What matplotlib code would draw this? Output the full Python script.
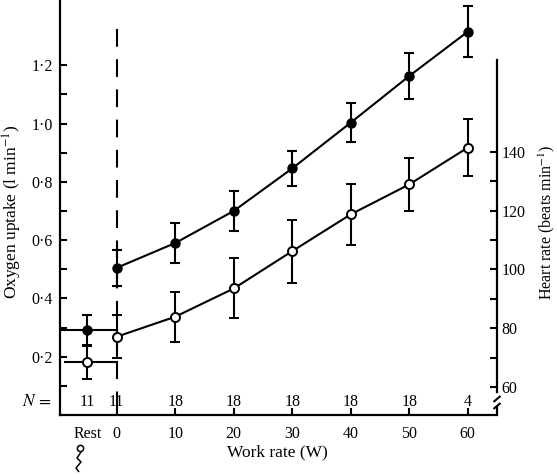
import matplotlib
matplotlib.use("Agg")
import matplotlib.pyplot as plt
from matplotlib.lines import Line2D
from matplotlib.ticker import FixedLocator

plt.rcParams['font.family'] = ['Liberation Serif', 'DejaVu Serif']
plt.rcParams['mathtext.fontset'] = 'stix'

# ---- data ----
work_labels = ['Rest', '0', '10', '20', '30', '40', '50', '60']
work_x = [-5, 0, 10, 20, 30, 40, 50, 60]
n_subjects = [11, 11, 18, 18, 18, 18, 18, 4]
o2_mean = [0.29, 0.505, 0.59, 0.70, 0.846, 1.003, 1.163, 1.315]
o2_err = [0.053, 0.062, 0.068, 0.069, 0.060, 0.066, 0.078, 0.087]
hr_mean = [68.5, 77.1, 83.9, 93.5, 106.2, 118.7, 128.9, 141.4]
hr_err = [5.8, 7.3, 8.5, 10.2, 10.7, 10.5, 9.1, 9.8]
o2_ticks = [0.2, 0.4, 0.6, 0.8, 1.0, 1.2]
o2_minor = [0.1, 0.3, 0.5, 0.7, 0.9, 1.1]
hr_ticks = [60, 80, 100, 120, 140]
hr_minor = [70, 90, 110, 130]

W, H = 557, 475
fig = plt.figure(figsize=(W / 100, H / 100), dpi=100)
ax = fig.add_axes([60 / W, 1 - 415 / H, (497 - 60) / W, 415 / H])
ax.set_xlim(-9.7, 65)
ax.set_ylim(0, 1.4237)

lw = 1.5
fs = 11.5

# dashed line at work rate 0
ax.plot([0, 0], [1.324, 0], color='black', lw=1.5, dashes=(8.5, 6), zorder=1)

# oxygen uptake (filled)
ax.plot([ax.get_xlim()[0], 0], [o2_mean[0], o2_mean[0]], color='black', lw=lw, zorder=2)
ax.plot(work_x[1:], o2_mean[1:], color='black', lw=lw, zorder=2)
ax.errorbar(work_x, o2_mean, yerr=o2_err, fmt='o', color='black', ms=6.5,
            elinewidth=1.5, capsize=3.6, capthick=1.5, zorder=3, clip_on=False)

for side in ['top', 'right']:
    ax.spines[side].set_visible(False)
ax.spines['left'].set_linewidth(1.6)
ax.spines['bottom'].set_linewidth(1.6)

ax.yaxis.set_major_locator(FixedLocator(o2_ticks))
ax.yaxis.set_minor_locator(FixedLocator(o2_minor))
ax.set_yticklabels([f"{v:.1f}".replace('.', '\u00b7') for v in o2_ticks])
ax.tick_params(axis='y', which='both', direction='in', length=5, width=1.5,
               labelsize=fs, pad=5)
ax.set_xticks(work_x)
ax.set_xticklabels(work_labels)
ax.tick_params(axis='x', direction='in', length=5, width=1.5, labelsize=fs, pad=8)
ax.xaxis.get_major_ticks()[0].tick1line.set_visible(False)

# N row
for x, n in zip(work_x, n_subjects):
    ax.text(x, 0.045, str(n), ha='center', va='center', fontsize=fs)
fig.text(37 / W, 1 - 402 / H, r'$N\,=$', ha='center', va='center', fontsize=fs + 1)

# heart rate (open) on twin axis
ax2 = ax.twinx()
ax2.set_ylim(50.48, 191.6)
ax2.plot([ax.get_xlim()[0] + 0.8, 0], [hr_mean[0], hr_mean[0]], color='black', lw=lw, zorder=2)
ax2.plot(work_x[1:], hr_mean[1:], color='black', lw=lw, zorder=2)
ax2.errorbar(work_x, hr_mean, yerr=hr_err, fmt='o', color='black', mfc='white',
             mec='black', mew=1.4, ms=6.5, elinewidth=1.5, capsize=3.6,
             capthick=1.5, zorder=3)
for side in ['top', 'left', 'bottom']:
    ax2.spines[side].set_visible(False)
ax2.spines['right'].set_linewidth(1.6)
ax2.spines['right'].set_bounds(58.3, 171.2)
ax2.yaxis.set_major_locator(FixedLocator(hr_ticks))
ax2.yaxis.set_minor_locator(FixedLocator(hr_minor))
ax2.tick_params(axis='y', which='both', direction='in', length=5, width=1.5,
                labelsize=fs, pad=3)

# axis break at bottom right
def fline(pts, lw=1.5):
    xs = [p[0] / W for p in pts]
    ys = [1 - p[1] / H for p in pts]
    fig.add_artist(Line2D(xs, ys, color='black', lw=lw, solid_capstyle='butt'))

fline([(497, 415), (497, 406)], 1.6)
fline([(493.5, 409), (500.5, 403)])
fline([(493.5, 402), (500.5, 396)])

# small squiggle mark below "Rest"
fig.add_artist(Line2D([80 / W], [1 - 448 / H], marker='o', ms=4.5, mfc='white',
                      mec='black', mew=1.1, lw=0))
fline([(81, 452), (77, 458), (81, 462), (76, 468), (79, 472)], 1.1)

# axis labels
fig.text(12 / W, 1 - 212 / H, r'Oxygen uptake (l min$^{-1}$)', rotation=90,
         ha='center', va='center', fontsize=12.5)
fig.text(547 / W, 1 - 222 / H, r'Heart rate (beats min$^{-1}$)', rotation=90,
         ha='center', va='center', fontsize=11.5)
fig.text(277 / W, 1 - 452 / H, 'Work rate (W)', ha='center', va='center', fontsize=12.5)

fig.savefig('out.png', dpi=100)
